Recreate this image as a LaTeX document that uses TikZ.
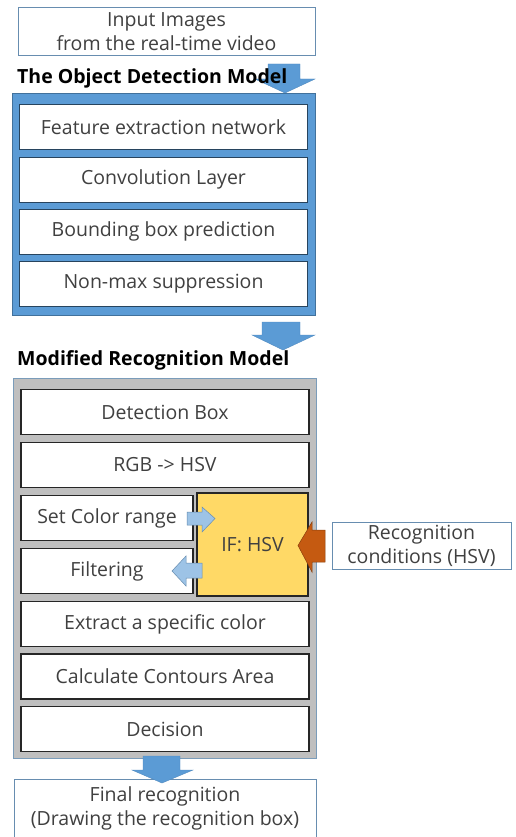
\documentclass[tikz,border=0pt]{standalone}
\usepackage{fontspec}
\setmainfont{Open Sans}
\usetikzlibrary{positioning,calc}
\usepackage{xcolor}
\definecolor{modelblue}{RGB}{91,155,213}
\definecolor{edgeblue}{RGB}{65,113,156}
\definecolor{softblue}{RGB}{157,195,230}
\definecolor{framegray}{RGB}{191,191,191}
\definecolor{ifyellow}{RGB}{255,217,102}
\definecolor{condorange}{RGB}{197,90,17}
\definecolor{textgray}{RGB}{64,64,64}

\begin{document}
\begin{tikzpicture}[x=1pt,y=-1pt,
  txt/.style={text=textgray,font=\fontsize{19.5}{24}\selectfont,align=center},
  iobox/.style={txt,draw=edgeblue!80,fill=white,line width=0.8pt,
    minimum height=48pt,inner sep=0pt},
  layerbox/.style={txt,draw=edgeblue!60!black,fill=white,line width=0.6pt,
    minimum width=288pt,minimum height=45pt,inner sep=0pt},
  stagebox/.style={txt,draw=black!85,fill=white,line width=1.3pt,
    minimum height=45pt,inner sep=0pt},
  title/.style={font=\fontsize{19.5}{24}\selectfont\bfseries,anchor=west,inner sep=0pt},
  bigarrow/.style={fill=modelblue,draw=modelblue!90!black,line width=0.4pt}]
  \useasboundingbox (0,0) rectangle (516,837);

  % input
  \node[iobox,minimum width=297pt] (input) at (166.5,31.5)
    {Input Images\\from the real-time video};

  % object detection model
  \draw[bigarrow] (268,64) -- (300,64) -- (300,79) -- (315,79)
    -- (285,93) -- (255,79) -- (268,79) -- cycle;
  \node[title] (odtitle) at (17,78) {The Object Detection Model};
  \node[draw=edgeblue,fill=modelblue,line width=0.6pt,
    minimum width=303pt,minimum height=222pt,inner sep=0pt] (odframe) at (163.5,204) {};
  \node[layerbox] (feature) at (163.5,127) {Feature extraction network};
  \node[layerbox] (conv) at (163.5,179.5) {Convolution Layer};
  \node[layerbox] (bbox) at (163.5,231.5) {Bounding box prediction};
  \node[layerbox] (nms) at (163.5,284) {Non-max suppression};

  \draw[bigarrow] (262,322) -- (300,322) -- (300,335) -- (315,335)
    -- (283,350) -- (252,335) -- (262,335) -- cycle;

  % modified recognition model
  \node[title] (mrtitle) at (17,360) {Modified Recognition Model};
  \node[draw=edgeblue!70,fill=framegray,line width=0.8pt,
    minimum width=303pt,minimum height=380pt,inner sep=0pt] (mrframe) at (164.5,568) {};
  \node[stagebox,minimum width=288pt] (detect) at (165,412) {Detection Box};
  \node[stagebox,minimum width=288pt] (rgbhsv) at (165,465) {RGB -> HSV};
  \node[stagebox,minimum width=172pt] (range) at (107,518) {Set Color range};
  \node[stagebox,minimum width=172pt] (filter) at (107,571) {Filtering};
  \node[stagebox,fill=ifyellow,minimum width=111pt,minimum height=103pt]
    (ifhsv) at (252.5,544.5) {IF: HSV};
  \node[stagebox,minimum width=288pt] (extract) at (165,624) {Extract a specific color};
  \node[stagebox,minimum width=288pt] (contour) at (165,676.5) {Calculate Contours Area};
  \node[stagebox,minimum width=288pt] (decision) at (165,729) {Decision};

  \node[iobox,minimum width=179pt,minimum height=47pt] (cond) at (421.5,545.5)
    {Recognition\\conditions (HSV)};

  % small arrows around IF: HSV
  \draw[fill=softblue,draw=edgeblue!80,line width=0.5pt]
    (187,512) -- (202,512) -- (202,507) -- (215,518.5) -- (202,532)
    -- (202,525) -- (187,525) -- cycle;
  \draw[fill=softblue,draw=edgeblue!80,line width=0.5pt]
    (202,563) -- (186,563) -- (186,556) -- (172,571) -- (186,586)
    -- (186,578) -- (202,578) -- cycle;
  \draw[fill=condorange,draw=condorange!70!black,line width=0.5pt]
    (325,530) -- (312,530) -- (312,522) -- (298,545.5) -- (312,572)
    -- (312,562) -- (325,562) -- cycle;

  % output
  \node[iobox,minimum width=302pt,minimum height=58pt] (final) at (165,808)
    {Final recognition\\(Drawing the recognition box)};
  \draw[bigarrow] (143,756) -- (180,756) -- (180,770) -- (193,770)
    -- (162,783) -- (132,770) -- (143,770) -- cycle;
\end{tikzpicture}
\end{document}
